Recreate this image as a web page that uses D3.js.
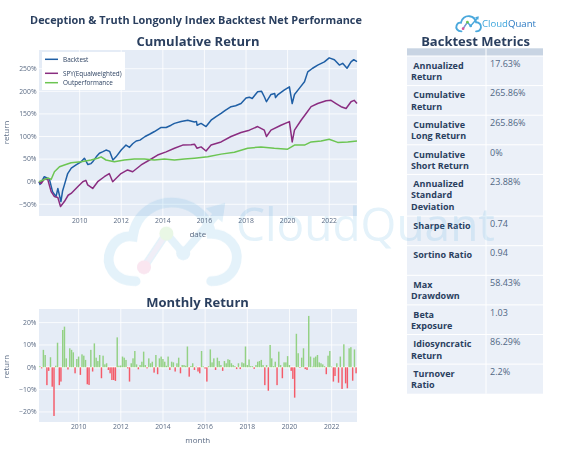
<!DOCTYPE html>
<html>
<head>
<meta charset="utf-8">
<script src="https://cdn.jsdelivr.net/npm/d3@7"></script>
<style>
  body { margin: 0; background: #fff; }
  text { font-family: "Open Sans", sans-serif; }
</style>
</head>
<body>
<script>
// ---- data ----
// cumulative return, percent, at sampled dates
const backtestDates = ["2008-01-18","2008-02-05","2008-04-20","2008-06-15","2008-07-20","2008-09-12","2008-11-12","2008-12-14","2009-02-06","2009-03-08","2009-04-08","2009-06-05","2009-08-07","2009-10-30","2010-01-26","2010-03-25","2010-05-26","2010-07-20","2010-08-18","2010-10-20","2010-12-14","2011-02-06","2011-04-09","2011-06-13","2011-08-08","2011-10-01","2012-01-01","2012-03-25","2012-05-26","2012-07-20","2012-09-20","2012-11-25","2013-02-24","2013-05-12","2013-08-07","2013-12-02","2014-02-28","2014-05-26","2014-07-24","2014-11-18","2015-03-15","2015-07-10","2015-08-15","2015-08-25","2015-11-03","2016-01-30","2016-04-27","2016-07-24","2016-10-20","2017-01-01","2017-04-13","2017-07-02","2017-10-05","2018-01-01","2018-02-28","2018-04-20","2018-07-24","2018-10-01","2018-11-18","2018-12-26","2019-03-15","2019-05-20","2019-06-03","2019-07-10","2019-11-07","2020-02-02","2020-03-22","2020-05-01","2020-07-28","2020-10-24","2020-12-20","2021-03-15","2021-06-13","2021-10-08","2022-01-01","2022-04-02","2022-06-28","2022-08-25","2022-11-10","2023-01-19","2023-03-08","2023-05-04"];
const backtestValues = [0,-6,11,8,5,-22,-33,-15,-44,-20,-7,18,30,37,44,52,38,40,44,55,63,66,70,67,48,55,70,81,76,84,90,92,100,105,111,120,120,125,129,133,136,132,133,125,129,122,136,144,151,158,166,168,173,185,187,184,199,200,188,177,193,195,186,192,203,210,173,193,207,221,243,251,258,265,274,270,258,262,251,265,270,265.86];

const spyDates = ["2008-01-18","2008-02-25","2008-04-20","2008-06-20","2008-08-18","2008-10-15","2008-12-14","2009-01-30","2009-04-08","2009-06-13","2009-08-04","2009-11-28","2010-02-25","2010-04-20","2010-05-22","2010-08-18","2010-11-14","2011-03-10","2011-06-05","2011-08-04","2011-10-01","2011-12-28","2012-04-22","2012-07-20","2012-12-16","2013-05-12","2013-10-01","2014-02-28","2014-07-24","2014-12-16","2015-05-12","2015-07-10","2015-08-25","2015-11-03","2016-01-30","2016-04-27","2016-10-20","2017-04-13","2017-10-05","2018-02-28","2018-07-24","2018-11-18","2018-12-26","2019-03-15","2019-09-06","2020-02-02","2020-03-22","2020-05-01","2020-08-25","2020-11-21","2021-02-17","2021-06-13","2021-11-07","2022-02-02","2022-05-01","2022-07-28","2022-10-24","2023-01-19","2023-03-15","2023-05-04"];
const spyValues = [0,-4,6,5,-22,-33,-35,-55,-44,-30,-26,-11,0,3,-7,-15,0,11,18,0,7,18,26,22,37,48,59,66,74,81,82,83,74,77,68,81,88,100,109,114,122,114,100,114,125,133,88,114,136,151,166,173,179,180,173,166,162,177,180,173];

const outperfDates = ["2008-01-18","2008-04-20","2008-07-01","2008-08-18","2008-10-15","2009-01-12","2009-04-08","2009-08-04","2010-01-26","2010-07-20","2010-11-14","2011-01-12","2011-04-09","2011-09-02","2012-02-24","2012-08-18","2013-02-10","2013-08-04","2014-01-30","2014-07-24","2015-01-15","2015-07-10","2016-02-28","2016-10-20","2017-06-10","2018-01-30","2018-09-20","2019-05-12","2020-01-01","2020-05-01","2020-10-24","2021-02-17","2021-08-12","2022-01-01","2022-05-30","2022-11-21","2023-05-04"];
const outperfValues = [0,5,8,5,22,33,37,42,44,48,52,55,48,44,48,50,50,48,50,48,50,52,55,61,65,74,77,74,72,81,81,88,90,94,87,88,90];

// monthly return, percent, Feb 2008 .. Feb 2023 (month ends)
const firstMonth = "2008-02";
const monthlyReturns = [
  0.5,-0.5,7.8,5.5,-8,-1.6,4.5,-8.7,-21.8,0.7,11,
  -8,-6.4,16.7,18.2,4,-1,8.5,7.8,6.7,-2.7,3.7,4.8,
  -3.4,5.8,5.2,3.3,-7.6,-7.9,7.8,-1.9,10.7,4.3,2.8,5.5,
  -4.9,5.2,1.3,1.8,-1.2,-2.7,-5.7,-5.7,-6.1,13.4,0.7,0.8,
  4.8,4.3,3.3,-0.5,-6.4,1.8,4,7.3,1.3,-0.9,1,2.5,
  7,1,-0.5,4,1.8,2.5,-2.4,5.5,-3.1,4,4.8,3.7,
  2.5,0.7,4.8,-1.2,2.5,2.2,-1.9,1.8,4.3,-2.7,1,1,
  0.7,9.3,-4.2,0.6,1.8,-1.2,0.3,-1.9,-2.7,7.3,0.4,-0.6,
  -6.4,0.5,8,2.2,4,-1.2,4.3,2.8,1,-1.6,2.8,1.8,
  3.6,3.3,1.8,1,0.5,-0.8,1.8,-0.8,2.2,1.8,9.3,1,
  3.5,0.5,0.5,-0.7,1,2.5,2.8,3.3,1,-8,1,-10.5,
  10,4,0.5,2.5,-8,7,1,-4.9,2.2,2.2,5,1,
  -1.6,-5.2,-13.6,15,6.3,-0.3,4.3,8.5,-0.8,-1.2,23,4.8,
  0.3,4.3,4.8,5.5,2.2,1.8,1.3,0.5,-3.1,5.2,7.3,0.3,
  -6.4,-3.9,1.8,-6.9,4.8,-9.7,10.3,-7.2,-9.4,8.5,9,-6,
  8,-2.7
];

const cumTicks = [-50, 0, 50, 100, 150, 200, 250];
const monTicks = [-20, -10, 0, 10, 20];

const metricNames = [" Annualized\nReturn", " Cumulative\nReturn", " Cumulative\nLong Return",
  " Cumulative\nShort Return", " Annualized\nStandard\nDeviation", " Sharpe Ratio", " Sortino Ratio",
  " Max\nDrawdown", " Beta\nExposure", " Idiosyncratic\nReturn", " Turnover\nRatio"];
const metricValues = ["17.63%", "265.86%", "265.86%", "0%", "23.88%", "0.74", "0.94",
  "58.43%", "1.03", "86.29%", "2.2%"];

// ---- chart ----
const width = 582, height = 461;
const titleColor = "#2a3f5f", tickColor = "#5b6b84";
const parse = d3.timeParse("%Y-%m-%d");

const svg = d3.select("body").append("svg")
  .attr("width", width).attr("height", height);

const series = [
  {name: "Backtest", color: "#1f5fa5", dates: backtestDates, values: backtestValues},
  {name: "SPY(Equalweighted)", color: "#8a2d80", dates: spyDates, values: spyValues},
  {name: "Outperformance", color: "#6cc552", dates: outperfDates, values: outperfValues}
].map(s => ({...s, points: s.dates.map((d, i) => ({date: parse(d), v: s.values[i]}))}));

const cum = {left: 39, right: 357, top: 50, bottom: 216};
const mon = {left: 39, right: 357, top: 309, bottom: 422};

const x = d3.scaleTime()
  .domain(d3.extent(series.flatMap(s => s.points), d => d.date))
  .range([cum.left, cum.right]);
const y = d3.scaleLinear().domain([-75.9, 291.4]).range([cum.bottom, cum.top]);

const m0 = d3.timeParse("%Y-%m")(firstMonth);
const months = monthlyReturns.map((v, i) =>
  ({date: d3.timeDay.offset(d3.timeMonth.offset(m0, i + 1), -1), v}));
const xm = d3.scaleTime()
  .domain([parse("2008-02-14"), parse("2023-03-16")])
  .range([mon.left, mon.right]);
const ym = d3.scaleLinear().domain([-24.5, 26.1]).range([mon.bottom, mon.top]);

// plot backgrounds
[cum, mon].forEach(p => svg.append("rect")
  .attr("x", p.left).attr("y", p.top)
  .attr("width", p.right - p.left).attr("height", p.bottom - p.top)
  .attr("fill", "#e5ecf6"));

// table
const tab = {left: 407, mid: 486, right: 543, top: 48.3, head: 7.7};
const rowH = names => names.split("\n").length > 2 ? 41.7 : 29.6;
svg.append("rect").attr("x", tab.left).attr("y", tab.top)
  .attr("width", tab.right - tab.left).attr("height", tab.head).attr("fill", "#c8d4e3");
let rowTops = [], yy = tab.top + tab.head;
metricNames.forEach(n => { rowTops.push(yy); yy += rowH(n); });
const rows = svg.append("g").selectAll("g").data(metricNames).join("g")
  .attr("transform", (d, i) => `translate(0,${rowTops[i]})`);
rows.append("rect").attr("x", tab.left).attr("width", tab.right - tab.left)
  .attr("height", d => rowH(d)).attr("fill", "#ebf0f8");
// cell borders
svg.append("g").selectAll("line").data([tab.top + tab.head, ...rowTops.slice(1)]).join("line")
  .attr("x1", tab.left).attr("x2", tab.right).attr("y1", d => d).attr("y2", d => d)
  .attr("stroke", "#fff").attr("stroke-width", 1);
svg.append("line").attr("x1", tab.mid).attr("x2", tab.mid)
  .attr("y1", tab.top).attr("y2", yy).attr("stroke", "#fff").attr("stroke-width", 1);

// grids
function grid(p, xs, xt, ys, yt) {
  const g = svg.append("g").attr("stroke", "#fff").attr("stroke-width", 0.8);
  g.selectAll(".gx").data(xt).join("line")
    .attr("x1", d => xs(d)).attr("x2", d => xs(d)).attr("y1", p.top).attr("y2", p.bottom);
  g.selectAll(".gy").data(yt).join("line")
    .attr("x1", p.left).attr("x2", p.right).attr("y1", d => ys(d)).attr("y2", d => ys(d))
    .attr("stroke-width", d => d === 0 ? 1.8 : 0.8);
}
const xTicks = x.ticks(d3.timeYear.every(2));
const xmTicks = xm.ticks(d3.timeYear.every(2));
grid(cum, x, xTicks, y, cumTicks);
grid(mon, xm, xmTicks, ym, monTicks);

// watermark
function cloudLogo(g, sw) {
  g.append("path")
    .attr("d", "M24,68 C8,68 2,56 6,46 C9,38 16,35 22,36 C24,20 38,10 54,12 C68,14 76,24 78,34 C90,34 98,44 96,54 C94,64 86,68 78,68")
    .attr("fill", "none").attr("stroke", "#4aa8dc").attr("stroke-width", sw)
    .attr("stroke-linecap", "round");
  g.append("path").attr("d", "M30,58 L46,34 L58,48 L84,18")
    .attr("fill", "none").attr("stroke", "#4aa8dc").attr("stroke-width", sw * 0.8)
    .attr("stroke-linecap", "round");
  g.append("path").attr("d", "M74,16 L88,12 L86,26 Z").attr("fill", "#4aa8dc");
  g.append("line").attr("x1", 30).attr("y1", 58).attr("x2", 46).attr("y2", 34)
    .attr("stroke", "#9b8ac8").attr("stroke-width", sw * 0.5);
  [[30, 58, "#d9579b"], [46, 34, "#6cc552"], [58, 48, "#4aa8dc"]].forEach(([cx, cy, c]) =>
    g.append("circle").attr("cx", cx).attr("cy", cy).attr("r", 5).attr("fill", c));
}
const wm = svg.append("g").attr("opacity", 0.15);
cloudLogo(wm.append("g").attr("transform", "translate(102,186) scale(1.4)"), 7);
wm.append("text").attr("x", 236).attr("y", 241)
  .attr("font-size", 46).attr("fill", "#4aa8dc").text("CloudQuant");

// lines
const line = d3.line().x(d => x(d.date)).y(d => y(d.v));
svg.append("g").selectAll("path").data(series).join("path")
  .attr("d", d => line(d.points))
  .attr("fill", "none").attr("stroke", d => d.color)
  .attr("stroke-width", 1.5).attr("stroke-linejoin", "round");

// bars
const bw = 1.45;
svg.append("g").selectAll("rect").data(months).join("rect")
  .attr("x", d => xm(d.date) - bw / 2).attr("width", bw)
  .attr("y", d => ym(Math.max(0, d.v)))
  .attr("height", d => Math.abs(ym(d.v) - ym(0)))
  .attr("fill", d => d.v >= 0 ? "#93d184" : "#f45b69");

// axes labels
function axisText(xs, xt, baseX, ys, yt, p, fmtY) {
  svg.append("g").selectAll("text").data(xt).join("text")
    .attr("x", d => xs(d)).attr("y", baseX).attr("text-anchor", "middle")
    .attr("font-size", 6.8).attr("fill", tickColor).text(d3.timeFormat("%Y"));
  svg.append("g").selectAll("text").data(yt).join("text")
    .attr("x", p.left - 2.5).attr("y", d => ys(d) + 2.4).attr("text-anchor", "end")
    .attr("font-size", 6.8).attr("fill", tickColor).text(fmtY);
}
const pct = d => d3.format("d")(d) + "%";
axisText(x, xTicks, 223.3, y, cumTicks, cum, pct);
axisText(xm, xmTicks, 429.3, ym, monTicks, mon, pct);

function label(t, lx, ly, rot) {
  svg.append("text").attr("transform", `translate(${lx},${ly}) rotate(${rot || 0})`)
    .attr("text-anchor", "middle").attr("font-size", 8).attr("fill", tickColor).text(t);
}
label("date", 197.8, 236.5);
label("month", 197.8, 442.5);
label("return", 8.8, 132.5, -90);
label("return", 8.8, 366.7, -90);

// titles
function title(t, tx, ty, size) {
  svg.append("text").attr("x", tx).attr("y", ty).attr("text-anchor", "middle")
    .attr("font-size", size).attr("font-weight", "bold").attr("fill", titleColor).text(t);
}
title("Deception & Truth Longonly Index Backtest Net Performance", 196, 24.3, 10.9);
title("Cumulative Return", 198, 45.7, 13);
title("Monthly Return", 197.5, 306.8, 13);
title("Backtest Metrics", 475.5, 45.5, 13);

// legend
const leg = svg.append("g");
leg.append("rect").attr("x", 42).attr("y", 52).attr("width", 83).attr("height", 38).attr("fill", "#fff");
const legY = [59.3, 73.3, 82.7];
const li = leg.selectAll("g").data(series).join("g")
  .attr("transform", (d, i) => `translate(0,${legY[i]})`);
li.append("line").attr("x1", 45).attr("x2", 58).attr("stroke", d => d.color).attr("stroke-width", 1.5);
li.append("text").attr("x", 63).attr("y", 2.2).attr("font-size", 6.4)
  .attr("fill", titleColor).text(d => d.name);

// table text
rows.each(function(d, i) {
  const g = d3.select(this);
  const t = g.append("text").attr("font-size", 9).attr("font-weight", "bold")
    .attr("fill", titleColor).style("white-space", "pre");
  d.split("\n").forEach((ln, k) =>
    t.append("tspan").attr("x", tab.left + 4).attr("y", 12.8 + k * 11.2).text(ln));
  g.append("text").attr("x", tab.mid + 4).attr("y", 10.8).attr("font-size", 9)
    .attr("fill", "#506784").text(metricValues[i]);
});

// small logo
cloudLogo(svg.append("g").attr("transform", "translate(455,13) scale(0.27)"), 7);
const lt = svg.append("text").attr("x", 482).attr("y", 26.5).attr("font-size", 9.6);
lt.append("tspan").attr("fill", "#3da6dd").text("Cloud");
lt.append("tspan").attr("fill", "#2a79c2").text("Quant");
</script>
</body>
</html>
